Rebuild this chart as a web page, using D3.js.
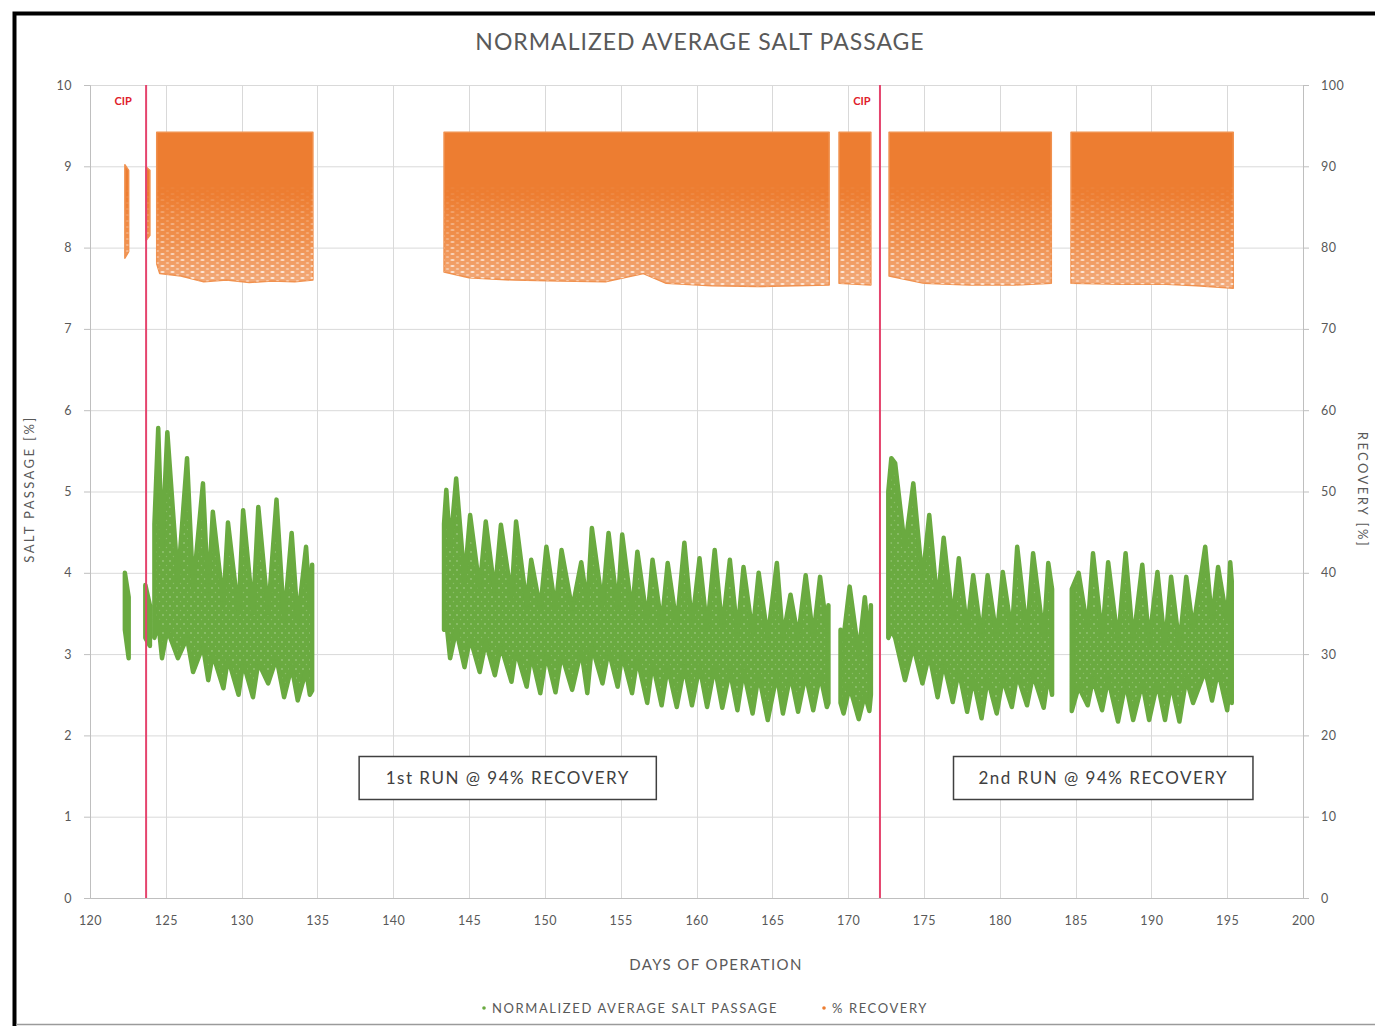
<!DOCTYPE html>
<html>
<head>
<meta charset="utf-8">
<script src="https://cdn.jsdelivr.net/npm/d3@7"></script>
<style>
  body { margin: 0; background: #fff; }
  svg text { font-family: Lato, "Open Sans", "DejaVu Sans", sans-serif; }
</style>
</head>
<body>
<svg id="chart" width="1375" height="1026"></svg>
<script>
// ---- axis ticks ----
const dayTicks = [120, 125, 130, 135, 140, 145, 150, 155, 160, 165, 170, 175, 180, 185, 190, 195, 200];
const saltTicks = [0, 1, 2, 3, 4, 5, 6, 7, 8, 9, 10];
const recoveryTicks = [0, 10, 20, 30, 40, 50, 60, 70, 80, 90, 100];

// ---- clean-in-place events (day) ----
const cipDays = [123.7, 172.1];

// ---- normalized average salt passage (%): envelope of the logged points,
//      sampled at daily peaks and troughs; null separates operating runs ----
const saltDay = [
  122.3, 122.55, null,
  123.65, 123.95, null,
  124.25, 124.5, 124.75, 125.1, 125.8, 126.4, 126.8, 127.45, 127.8, 128.1, 128.8, 129.1, 129.8,
  130.1, 130.75, 131.1, 131.75, 132.3, 132.8, 133.3, 133.7, 134.25, 134.5, 134.65, null,
  143.35, 143.5, 143.75, 144.15, 144.7, 145.07, 145.7, 146.1, 146.7, 147.1, 147.8, 148.1, 148.8,
  149.1, 149.7, 150.1, 150.7, 151.1, 151.8, 152.4, 152.8, 153.1, 153.8, 154.2, 154.8, 155.1,
  155.75, 156.1, 156.75, 157.1, 157.7, 158.1, 158.7, 159.2, 159.7, 160.2, 160.7, 161.2, 161.7,
  162.2, 162.7, 163.1, 163.7, 164.1, 164.7, 165.3, 165.7, 166.2, 166.7, 167.2, 167.7, 168.15,
  168.6, 168.7, null,
  169.5, 169.7, 170.1, 170.7, 171.1, 171.4, 171.5, null,
  172.65, 172.85, 173.1, 173.75, 174.3, 174.9, 175.35, 175.9, 176.3, 176.9, 177.3, 177.85,
  178.25, 178.8, 179.2, 179.8, 180.2, 180.8, 181.15, 181.8, 182.2, 182.9, 183.2, 183.45, null,
  184.75, 185.2, 185.8, 186.15, 186.75, 187.15, 187.8, 188.3, 188.8, 189.4, 189.85, 190.4,
  190.9, 191.3, 191.85, 192.3, 192.75, 193.55, 194.0, 194.4, 195.0, 195.2, 195.3
];
const saltHigh = [
  4.0, 3.7, null,
  3.85, 3.6, null,
  4.6, 5.78, 4.3, 5.73, 3.9, 5.41, 3.8, 5.1, 3.7, 4.75, 3.6, 4.62, 3.5,
  4.77, 3.5, 4.81, 3.5, 4.9, 3.4, 4.49, 3.4, 4.32, 3.6, 4.1, null,
  4.6, 5.02, 4.3, 5.16, 3.9, 4.71, 3.8, 4.63, 3.75, 4.59, 3.7, 4.63, 3.6,
  4.16, 3.55, 4.32, 3.55, 4.28, 3.55, 4.13, 3.6, 4.55, 3.6, 4.49, 3.55, 4.47,
  3.5, 4.26, 3.4, 4.16, 3.35, 4.12, 3.35, 4.37, 3.35, 4.18, 3.3, 4.28, 3.3,
  4.16, 3.25, 4.07, 3.25, 4.0, 3.2, 4.12, 3.2, 3.73, 3.2, 3.97, 3.2, 3.95,
  3.3, 3.6, null,
  3.3, 3.2, 3.83, 3.0, 3.7, 3.1, 3.6, null,
  5.0, 5.41, 5.35, 4.3, 5.1, 3.9, 4.71, 3.6, 4.43, 3.4, 4.18, 3.3,
  3.97, 3.2, 3.97, 3.2, 4.01, 3.25, 4.32, 3.25, 4.24, 3.2, 4.12, 3.8, null,
  3.8, 4.0, 3.3, 4.24, 3.2, 4.13, 3.15, 4.24, 3.15, 4.1, 3.15, 4.01,
  3.1, 3.95, 3.1, 3.95, 3.3, 4.32, 3.4, 4.07, 3.4, 4.13, 3.9
];
const saltLow = [
  3.3, 2.95, null,
  3.2, 3.1, null,
  3.2, 3.4, 2.95, 3.3, 2.95, 3.2, 2.78, 3.1, 2.68, 3.0, 2.58, 2.95, 2.5,
  2.9, 2.47, 2.9, 2.64, 2.95, 2.47, 2.85, 2.43, 2.8, 2.5, 2.55, null,
  3.3, 3.4, 2.95, 3.3, 2.84, 3.2, 2.78, 3.15, 2.74, 3.1, 2.66, 3.05, 2.6,
  3.0, 2.52, 3.0, 2.53, 3.0, 2.56, 3.05, 2.52, 3.1, 2.64, 3.05, 2.6, 3.0,
  2.52, 2.95, 2.4, 2.9, 2.37, 2.85, 2.35, 2.85, 2.37, 2.85, 2.35, 2.85, 2.34,
  2.8, 2.31, 2.8, 2.27, 2.75, 2.19, 2.75, 2.27, 2.75, 2.29, 2.75, 2.31, 2.75,
  2.35, 2.4, null,
  2.4, 2.27, 2.6, 2.2, 2.5, 2.3, 2.5, null,
  3.2, 3.3, 3.2, 2.68, 3.1, 2.64, 3.0, 2.47, 2.9, 2.41, 2.8, 2.29,
  2.7, 2.21, 2.7, 2.27, 2.7, 2.35, 2.75, 2.37, 2.75, 2.34, 2.75, 2.5, null,
  2.3, 2.6, 2.37, 2.7, 2.31, 2.7, 2.17, 2.65, 2.19, 2.65, 2.19, 2.65,
  2.19, 2.65, 2.17, 2.7, 2.4, 2.8, 2.43, 2.8, 2.31, 2.7, 2.4
];

// ---- % recovery: upper and lower limits of the logged points ----
const recoveryDay = [
  122.3, 122.55, null,
  123.7, 123.95, null,
  124.4, 124.6, 126, 127.5, 129, 130.5, 132, 133.5, 134.7, null,
  143.35, 145, 148, 151, 154, 156.5, 158, 161, 164, 166.5, 168.75, null,
  169.4, 171.5, null,
  172.7, 175, 178, 181, 183.4, null,
  184.7, 188, 191, 193, 195.4
];
const recoveryHigh = [
  90.2, 89.5, null,
  89.9, 89.5, null,
  94.2, 94.2, 94.2, 94.2, 94.2, 94.2, 94.2, 94.2, 94.2, null,
  94.2, 94.2, 94.2, 94.2, 94.2, 94.2, 94.2, 94.2, 94.2, 94.2, 94.2, null,
  94.2, 94.2, null,
  94.2, 94.2, 94.2, 94.2, 94.2, null,
  94.2, 94.2, 94.2, 94.2, 94.2
];
const recoveryLow = [
  78.7, 79.5, null,
  80.9, 81.5, null,
  78.0, 76.8, 76.5, 75.8, 76.0, 75.7, 75.9, 75.8, 76.0, null,
  77.0, 76.3, 76.0, 75.9, 75.8, 76.8, 75.6, 75.3, 75.2, 75.3, 75.4, null,
  75.6, 75.4, null,
  76.5, 75.6, 75.4, 75.4, 75.6, null,
  75.6, 75.5, 75.5, 75.3, 75.0
];

const GREEN = "#6aaa40";
const ORANGE = "#ed7d31";
const TEXT = "#595959";
const GRID = "#d9d9d9";

const svg = d3.select("#chart");
const W = 1375, H = 1026;
const plot = { left: 90, right: 1303, top: 85, bottom: 898 };

const x = d3.scaleLinear().domain([120, 200]).range([plot.left, plot.right]);
const ySalt = d3.scaleLinear().domain([0, 10]).range([plot.bottom, plot.top]);
const yRec = d3.scaleLinear().domain([0, 100]).range([plot.bottom, plot.top]);

// outer frame
svg.append("rect").attr("x", 0).attr("y", 0).attr("width", W).attr("height", H).attr("fill", "#fff");
svg.append("rect").attr("x", 14.5).attr("y", 13.5).attr("width", 1400).attr("height", 1100)
  .attr("fill", "none").attr("stroke", "#000").attr("stroke-width", 4);
svg.append("line").attr("x1", 16).attr("x2", W).attr("y1", 1024.5).attr("y2", 1024.5)
  .attr("stroke", "#9a9a9a").attr("stroke-width", 1.5);

// title
svg.append("text").attr("x", 700).attr("y", 50).attr("text-anchor", "middle")
  .attr("font-size", 23).attr("letter-spacing", 1).attr("fill", TEXT)
  .text("NORMALIZED AVERAGE SALT PASSAGE");

// gridlines
const grid = svg.append("g");
grid.selectAll("line.h").data(saltTicks).join("line")
  .attr("x1", plot.left).attr("x2", plot.right)
  .attr("y1", d => ySalt(d) + 0.5).attr("y2", d => ySalt(d) + 0.5)
  .attr("stroke", GRID).attr("stroke-width", 1);
grid.selectAll("line.v").data(dayTicks).join("line")
  .attr("y1", plot.top).attr("y2", plot.bottom)
  .attr("x1", d => Math.round(x(d)) + 0.5).attr("x2", d => Math.round(x(d)) + 0.5)
  .attr("stroke", GRID).attr("stroke-width", 1);

// axes
const axisLeft = svg.append("g").attr("transform", `translate(${plot.left},0)`)
  .call(d3.axisLeft(ySalt).tickValues(saltTicks).tickSize(6).tickPadding(12));
const axisRight = svg.append("g").attr("transform", `translate(${plot.right},0)`)
  .call(d3.axisRight(yRec).tickValues(recoveryTicks).tickSize(6).tickPadding(12));
const axisBottom = svg.append("g").attr("transform", `translate(0,${plot.bottom})`)
  .call(d3.axisBottom(x).tickValues(dayTicks).tickSize(0).tickPadding(18));
[axisLeft, axisRight, axisBottom].forEach(g => {
  g.select(".domain").attr("stroke", "#bfbfbf");
  g.selectAll(".tick line").attr("stroke", "#bfbfbf");
  g.selectAll(".tick text").attr("fill", TEXT).attr("font-size", 12.5).attr("letter-spacing", 0.5)
    .style("font-family", "Lato, 'Open Sans', sans-serif");
});

// axis titles
svg.append("text").attr("transform", "translate(34,489) rotate(-90)")
  .attr("text-anchor", "middle").attr("font-size", 13).attr("letter-spacing", 2.4)
  .attr("fill", TEXT).text("SALT PASSAGE [%]");
svg.append("text").attr("transform", "translate(1358,490) rotate(90)")
  .attr("text-anchor", "middle").attr("font-size", 13).attr("letter-spacing", 2.4)
  .attr("fill", TEXT).text("RECOVERY [%]");
svg.append("text").attr("x", 716).attr("y", 970).attr("text-anchor", "middle")
  .attr("font-size", 15).attr("letter-spacing", 1.4).attr("fill", TEXT).text("DAYS OF OPERATION");

// fills and textures
const defs = svg.append("defs");
const grad = defs.append("linearGradient").attr("id", "recGrad")
  .attr("gradientUnits", "userSpaceOnUse")
  .attr("x1", 0).attr("x2", 0).attr("y1", yRec(94.2)).attr("y2", yRec(75));
grad.append("stop").attr("offset", "0%").attr("stop-color", ORANGE);
grad.append("stop").attr("offset", "40%").attr("stop-color", ORANGE);
grad.append("stop").attr("offset", "70%").attr("stop-color", "#f0914f");
grad.append("stop").attr("offset", "100%").attr("stop-color", "#f3ad7f");

// scattered-point speckle for the lower part of the recovery band,
// faded in gradually from where the points start to spread out
const speck = defs.append("pattern").attr("id", "recSpeck")
  .attr("patternUnits", "userSpaceOnUse").attr("width", 10).attr("height", 6);
speck.append("ellipse").attr("cx", 2.5).attr("cy", 2).attr("rx", 2.2).attr("ry", 0.9)
  .attr("fill", "#fff").attr("opacity", 0.75);
speck.append("ellipse").attr("cx", 7.5).attr("cy", 5).attr("rx", 1.8).attr("ry", 0.8)
  .attr("fill", "#fff").attr("opacity", 0.6);
const fade = defs.append("linearGradient").attr("id", "speckFade")
  .attr("gradientUnits", "userSpaceOnUse")
  .attr("x1", 0).attr("x2", 0).attr("y1", yRec(88)).attr("y2", yRec(77));
fade.append("stop").attr("offset", "0%").attr("stop-color", "#000");
fade.append("stop").attr("offset", "100%").attr("stop-color", "#fff");
defs.append("mask").attr("id", "speckMask")
  .attr("maskUnits", "userSpaceOnUse").attr("x", 0).attr("y", 0).attr("width", W).attr("height", H)
  .append("rect").attr("x", 0).attr("y", 0).attr("width", W).attr("height", H)
  .attr("fill", "url(#speckFade)");

const greenSpeck = defs.append("pattern").attr("id", "saltSpeck")
  .attr("patternUnits", "userSpaceOnUse").attr("width", 7).attr("height", 9);
greenSpeck.append("rect").attr("width", 7).attr("height", 9).attr("fill", GREEN);
greenSpeck.append("circle").attr("cx", 2).attr("cy", 3).attr("r", 0.9).attr("fill", "#a9d08e").attr("opacity", 0.7);
greenSpeck.append("circle").attr("cx", 5.5).attr("cy", 7.5).attr("r", 0.7).attr("fill", "#a9d08e").attr("opacity", 0.5);

const recRows = recoveryDay.map((d, i) => ({ day: d, hi: recoveryHigh[i], lo: recoveryLow[i] }));
const saltRows = saltDay.map((d, i) => ({ day: d, hi: saltHigh[i], lo: saltLow[i] }));

const recArea = d3.area()
  .defined(d => d.day != null)
  .x(d => x(d.day)).y0(d => yRec(d.lo)).y1(d => yRec(d.hi));
const saltArea = d3.area()
  .defined(d => d.day != null)
  .x(d => x(d.day)).y0(d => ySalt(d.lo)).y1(d => ySalt(d.hi));

svg.append("path").datum(recRows).attr("d", recArea)
  .attr("fill", "url(#recGrad)").attr("stroke", "#f0914f").attr("stroke-width", 1.5)
  .attr("stroke-linejoin", "round");
svg.append("path").datum(recRows).attr("d", recArea)
  .attr("fill", "url(#recSpeck)").attr("mask", "url(#speckMask)");

svg.append("path").datum(saltRows).attr("d", saltArea)
  .attr("fill", "url(#saltSpeck)").attr("stroke", GREEN).attr("stroke-width", 4.5)
  .attr("stroke-linejoin", "round");

// CIP markers
const cipLabelOffset = [-23, -18];
svg.selectAll("line.cip").data(cipDays).join("line")
  .attr("x1", d => x(d)).attr("x2", d => x(d))
  .attr("y1", plot.top).attr("y2", plot.bottom)
  .attr("stroke", "#e5446d").attr("stroke-width", 2);
svg.selectAll("text.cip").data(cipDays).join("text")
  .attr("x", (d, i) => x(d) + cipLabelOffset[i]).attr("y", 105).attr("text-anchor", "middle")
  .attr("font-size", 11).attr("font-weight", "bold").attr("fill", "#e0202a").text("CIP");

// run annotations
const runs = [
  { label: "1st RUN @ 94% RECOVERY", from: 137.75, to: 157.35 },
  { label: "2nd RUN @ 94% RECOVERY", from: 176.95, to: 196.7 }
];
runs.forEach(r => {
  const x0 = x(r.from), x1 = x(r.to);
  svg.append("rect").attr("x", x0).attr("y", 756.5).attr("width", x1 - x0).attr("height", 43)
    .attr("fill", "#fff").attr("stroke", "#404040").attr("stroke-width", 1.5);
  svg.append("text").attr("x", (x0 + x1) / 2).attr("y", 784).attr("text-anchor", "middle")
    .attr("font-size", 17).attr("letter-spacing", 1.5).attr("fill", "#404040").text(r.label);
});

// legend
const legend = [
  { label: "NORMALIZED AVERAGE SALT PASSAGE", color: GREEN, x: 484 },
  { label: "% RECOVERY", color: ORANGE, x: 824 }
];
legend.forEach(l => {
  svg.append("circle").attr("cx", l.x).attr("cy", 1008).attr("r", 1.8).attr("fill", l.color);
  svg.append("text").attr("x", l.x + 8).attr("y", 1012.5).attr("font-size", 13)
    .attr("letter-spacing", 1.6).attr("fill", TEXT).text(l.label);
});
</script>
</body>
</html>
